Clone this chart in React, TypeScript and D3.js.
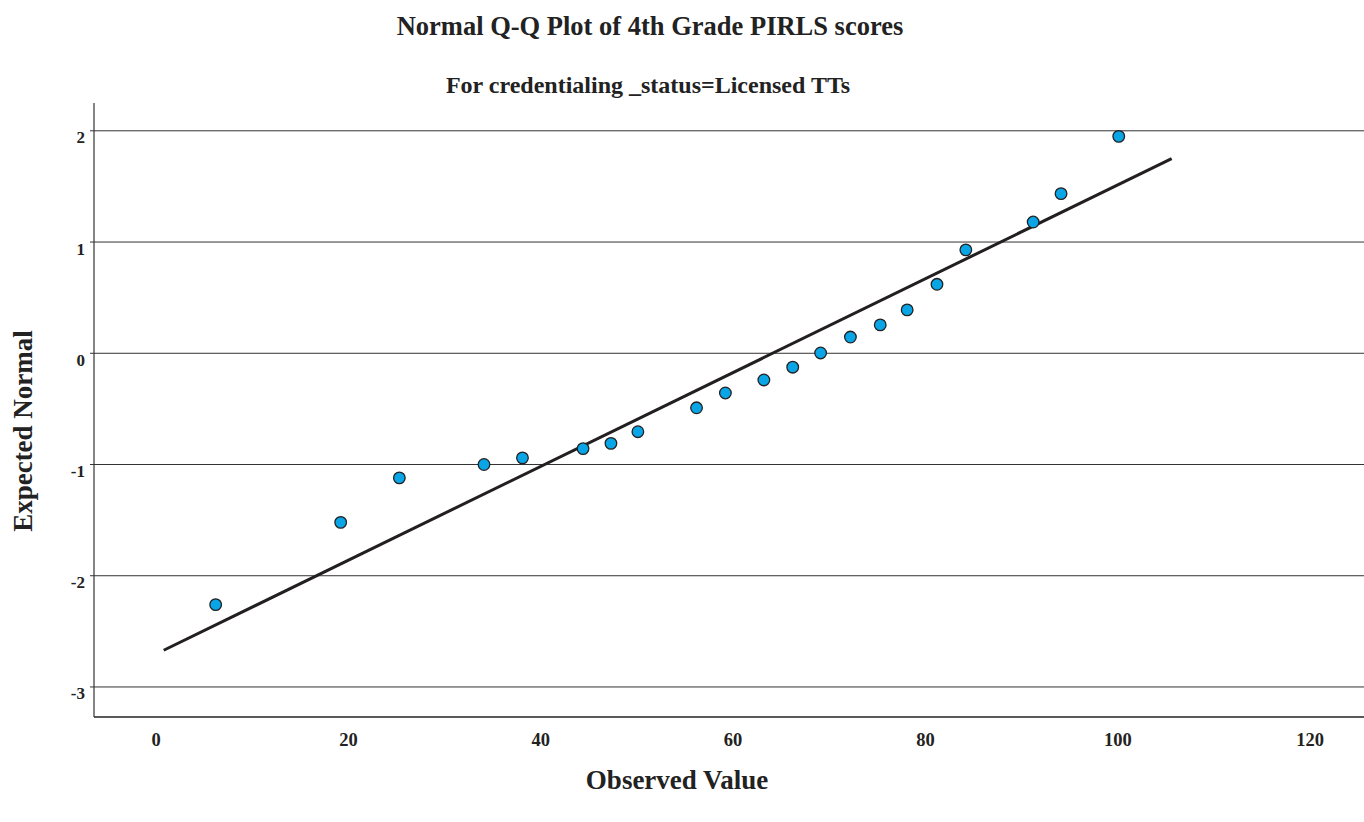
import React from "react";
import * as d3 from "d3";

const observedValues = [6.2, 19.2, 25.3, 34.1, 38.1, 44.4, 47.3, 50.1, 56.2, 59.2, 63.2, 66.2, 69.1, 72.2, 75.3, 78.1, 81.2, 84.2, 91.2, 94.1, 100.1];
const expectedNormal = [-2.26, -1.52, -1.12, -1.0, -0.94, -0.857, -0.81, -0.705, -0.49, -0.357, -0.24, -0.125, 0.003, 0.146, 0.255, 0.39, 0.62, 0.93, 1.18, 1.435, 1.95];
const refLineX = [0.8, 105.6];
const refLineY = [-2.67, 1.75];
const xTicks = [0, 20, 40, 60, 80, 100, 120];
const yTicks = [2, 1, 0, -1, -2, -3];

const W = 1364;
const H = 822;
const FONT = "'Liberation Serif', 'Times New Roman', serif";

export default function App() {
  const left = 94, right = 1364, top = 103, bottom = 717;
  const x = d3.scaleLinear().domain([-6.45, 125.6]).range([left, right]);
  const y = d3.scaleLinear().domain([-3.27, 2.25]).range([bottom, top]);
  const line = d3.line<[number, number]>().x(d => x(d[0])).y(d => y(d[1]));
  const linePts: [number, number][] = refLineX.map((v, i) => [v, refLineY[i]]);
  const pts = observedValues.map((v, i) => ({ v, e: expectedNormal[i] }));

  return (
    <svg width={W} height={H} style={{ position: "absolute", left: 0, top: 0, display: "block", background: "#fff" }}>
      <text x={650} y={35} textAnchor="middle" fontFamily={FONT} fontWeight="bold" fontSize={26.5} fill="#222">
        Normal Q-Q Plot of 4th Grade PIRLS scores
      </text>
      <text x={648} y={93} textAnchor="middle" fontFamily={FONT} fontWeight="bold" fontSize={24} fill="#222">
        For credentialing _status=Licensed TTs
      </text>
      {yTicks.map(t => (
        <g key={t}>
          <line x1={90} x2={right} y1={y(t)} y2={y(t)} stroke="#333" strokeWidth={1} />
          <text x={85} y={y(t) + 12.5} textAnchor="end" fontFamily={FONT} fontWeight="bold" fontSize={17} fill="#222">
            {t}
          </text>
        </g>
      ))}
      <line x1={left} x2={left} y1={top} y2={bottom} stroke="#333" strokeWidth={1.2} />
      <line x1={left} x2={right} y1={bottom} y2={bottom} stroke="#222" strokeWidth={1.5} />
      {xTicks.map(t => (
        <text key={t} x={x(t)} y={746} textAnchor="middle" fontFamily={FONT} fontWeight="bold" fontSize={18.5} fill="#222">
          {t}
        </text>
      ))}
      <path d={line(linePts) || ""} fill="none" stroke="#231f20" strokeWidth={3} />
      {pts.map((p, i) => (
        <circle key={i} cx={x(p.v)} cy={y(p.e)} r={5.8} fill="#0aa5e6" stroke="#222" strokeWidth={1.3} />
      ))}
      <text x={677} y={789} textAnchor="middle" fontFamily={FONT} fontWeight="bold" fontSize={27} fill="#222">
        Observed Value
      </text>
      <text transform={`translate(32,431) rotate(-90)`} textAnchor="middle" fontFamily={FONT} fontWeight="bold" fontSize={27} fill="#222">
        Expected Normal
      </text>
    </svg>
  );
}
